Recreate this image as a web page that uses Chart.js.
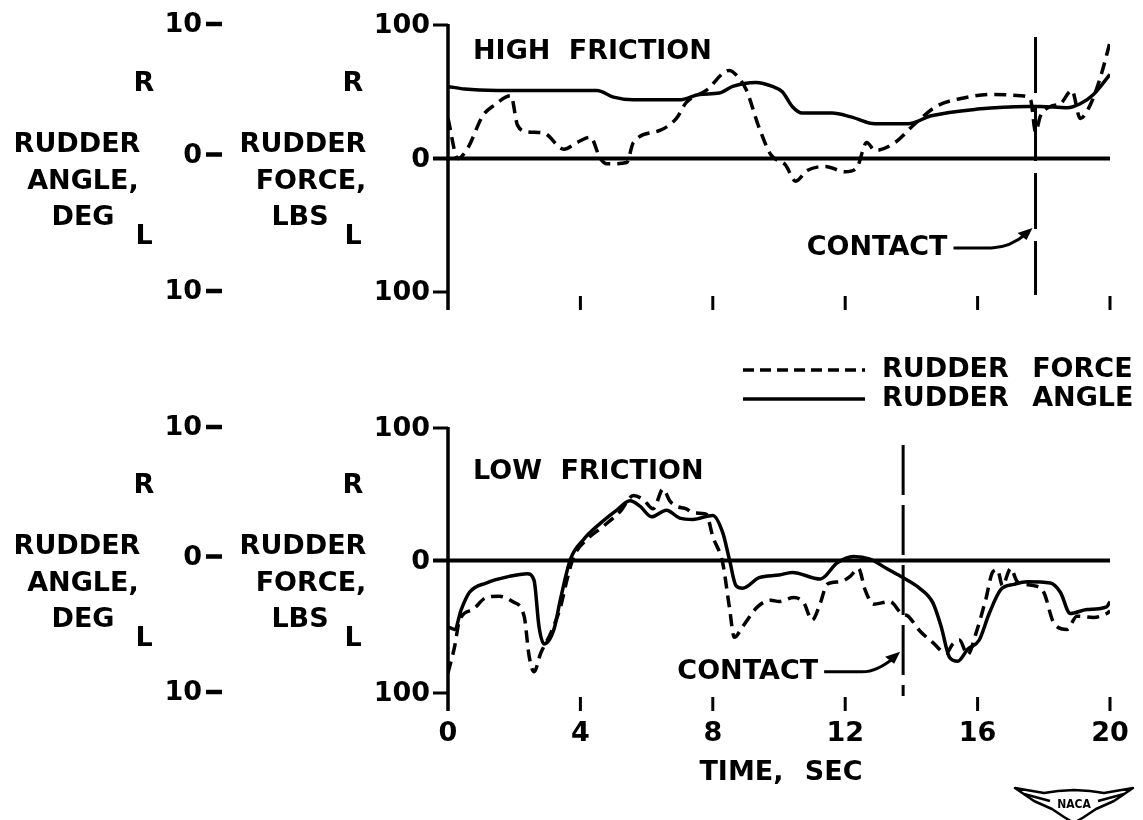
<!DOCTYPE html>
<html>
<head>
<meta charset="utf-8">
<script src="https://cdn.jsdelivr.net/npm/chart.js@4/dist/chart.umd.min.js"></script>
<style>
html,body{margin:0;padding:0;background:#fff;width:1143px;height:820px;overflow:hidden}
canvas{position:absolute;left:0;top:0}
</style>
</head>
<body>
<canvas id="c1" width="1143" height="820"></canvas>
<canvas id="c2" width="1143" height="820"></canvas>
<script>
// ---------- data ----------
const timeTicks = [0, 4, 8, 12, 16, 20];
const timeTickLabels = ['0', '4', '8', '12', '16', '20'];
const forceTicks = [100, 0, -100];
const forceTickLabels = ['100', '0', '100'];
const angleTicks = [10, 0, -10];
const angleTickLabels = ['10', '0', '10'];
const seriesLabels = ['RUDDER FORCE', 'RUDDER ANGLE'];
const panelTitles = ['HIGH FRICTION', 'LOW FRICTION'];
const contactTimes = [17.75, 13.75];
const xAxisTitle = 'TIME, SEC';
const angleAxisTitle = ['RUDDER', 'ANGLE,', 'DEG'];
const forceAxisTitle = ['RUDDER', 'FORCE,', 'LBS'];

// High friction (top panel)
const hfForceTime = [0, 0.3, 0.6, 1.05, 1.4, 1.9, 2.1, 2.4, 2.9, 3.5, 3.9, 4.3, 4.6, 4.8, 5.4, 5.6, 6.4, 6.9, 7.2, 7.8, 8.5, 8.6, 9.0, 9.4, 9.75, 10.2, 10.5, 10.85, 11.4, 12.0, 12.35, 12.65, 12.9, 13.45, 14.15, 14.75, 15.5, 16.5, 17.3, 17.6, 17.75, 17.9, 18.2, 18.5, 18.85, 19.1, 19.4, 19.7, 20];
const hfForce = [30, 0, 8, 32, 40, 47, 25, 20, 19, 7, 12, 16, 0, -4, -3, 12, 21, 30, 42, 51, 66, 65, 52, 23, 3, -5, -17, -9, -6, -10, -7, 12, 6, 11, 27, 39, 45, 48, 47, 44, 20, 32, 39, 41, 51, 30, 40, 60, 87];
const hfAngleTime = [0, 0.5, 1.5, 3.0, 4.5, 5.0, 5.6, 7.0, 7.6, 8.2, 8.6, 9.3, 9.8, 10.1, 10.4, 10.7, 11.6, 12.2, 12.9, 13.9, 14.6, 16.0, 17.5, 17.9, 18.7, 19.1, 19.5, 20];
const hfAngle = [5.4, 5.2, 5.1, 5.1, 5.1, 4.6, 4.4, 4.4, 4.8, 4.9, 5.4, 5.7, 5.4, 5.0, 3.9, 3.4, 3.4, 3.1, 2.6, 2.6, 3.2, 3.7, 3.9, 3.9, 3.8, 4.1, 4.8, 6.3];

// Low friction (bottom panel)
const lfForceTime = [0, 0.2, 0.35, 0.75, 1.15, 1.55, 1.95, 2.3, 2.45, 2.6, 2.8, 3.1, 3.4, 3.6, 3.8, 4.2, 4.7, 5.2, 5.6, 5.9, 6.2, 6.5, 6.7, 6.9, 7.2, 7.4, 7.8, 8.0, 8.3, 8.5, 8.65, 8.9, 9.35, 9.75, 10.0, 10.45, 10.75, 11.0, 11.25, 11.45, 11.85, 12.15, 12.4, 12.6, 12.85, 13.35, 13.7, 13.9, 14.25, 14.65, 15.05, 15.25, 15.45, 15.7, 15.95, 16.25, 16.45, 16.6, 16.75, 17.0, 17.2, 17.7, 18.0, 18.3, 18.7, 19.0, 19.5, 19.9, 20];
const lfForce = [-85, -65, -45, -37, -28, -27, -31, -42, -72, -84, -70, -55, -35, -14, 3, 16, 26, 37, 49, 46, 39, 54, 45, 41, 39, 36, 35, 18, -2, -35, -58, -50, -35, -30, -31, -28, -32, -45, -32, -18, -16, -12, -6, -22, -33, -31, -40, -42, -53, -62, -70, -63, -60, -71, -55, -29, -9, -7, -19, -6, -16, -19, -24, -47, -52, -42, -43, -40, -38];
const lfAngleTime = [0, 0.2, 0.4, 0.65, 1.15, 1.85, 2.4, 2.6, 2.75, 2.9, 3.2, 3.4, 3.7, 4.1, 4.6, 5.1, 5.5, 5.8, 6.15, 6.6, 7.0, 7.4, 8.0, 8.3, 8.5, 8.7, 8.9, 9.4, 10.0, 10.4, 11.25, 11.75, 12.25, 12.75, 13.25, 13.75, 14.25, 14.65, 14.9, 15.15, 15.4, 15.7, 16.05, 16.35, 16.7, 17.1, 17.5, 18.2, 18.5, 18.8, 19.3, 19.9, 20];
const lfAngle = [-5.0, -5.2, -3.7, -2.4, -1.7, -1.2, -1.0, -1.5, -5.0, -6.3, -5.2, -2.9, 0.1, 1.6, 2.8, 3.8, 4.5, 4.1, 3.3, 3.8, 3.2, 3.1, 3.4, 2.1, 0.1, -1.9, -2.1, -1.3, -1.1, -0.9, -1.4, -0.2, 0.3, 0.1, -0.6, -1.3, -2.1, -3.2, -5.0, -7.3, -7.6, -6.7, -6.0, -4.0, -2.2, -1.8, -1.6, -1.7, -2.4, -4.0, -3.7, -3.5, -3.1];

// ---------- helpers ----------
const FONT = 'bold 27px "DejaVu Sans", "Liberation Sans", sans-serif';
const zip = (xs, ys) => xs.map((x, i) => ({ x: x, y: ys[i] }));

function spaced(ctx, px) { if ('wordSpacing' in ctx) ctx.wordSpacing = px + 'px'; }

function drawArrowLabel(ctx, text, cx, y, gap) {
  ctx.font = FONT;
  ctx.textAlign = 'right';
  ctx.textBaseline = 'middle';
  const right = cx - gap;
  ctx.fillText(text, right, y);
  ctx.lineWidth = 3;
  ctx.beginPath();
  ctx.moveTo(right + 6, y);
  ctx.lineTo(right + 44, y);
  ctx.quadraticCurveTo(cx - 26, y, cx - 8, y - 15);
  ctx.stroke();
  ctx.beginPath();
  ctx.moveTo(cx - 3, y - 20);
  ctx.lineTo(cx - 18, y - 15);
  ctx.lineTo(cx - 9, y - 8);
  ctx.closePath();
  ctx.fill();
}

function drawLogo(ctx, cx, cy) {
  ctx.save();
  ctx.lineWidth = 2.5;
  ctx.lineJoin = 'round';
  ctx.beginPath();
  ctx.moveTo(cx - 59, cy - 16);
  ctx.lineTo(cx - 30, cy - 11);
  ctx.lineTo(cx - 16, cy - 13);
  ctx.lineTo(cx, cy - 14);
  ctx.lineTo(cx + 16, cy - 13);
  ctx.lineTo(cx + 30, cy - 11);
  ctx.lineTo(cx + 59, cy - 16);
  ctx.lineTo(cx + 40, cy - 3);
  ctx.lineTo(cx + 22, cy + 5);
  ctx.lineTo(cx + 10, cy + 13);
  ctx.lineTo(cx, cy + 19);
  ctx.lineTo(cx - 10, cy + 13);
  ctx.lineTo(cx - 22, cy + 5);
  ctx.lineTo(cx - 40, cy - 3);
  ctx.closePath();
  ctx.stroke();
  ctx.beginPath();
  ctx.moveTo(cx - 50, cy - 10); ctx.lineTo(cx - 24, cy - 3);
  ctx.moveTo(cx + 50, cy - 10); ctx.lineTo(cx + 24, cy - 3);
  ctx.stroke();
  ctx.font = 'bold 12px "DejaVu Sans Condensed", "DejaVu Sans", sans-serif';
  ctx.textAlign = 'center';
  ctx.textBaseline = 'middle';
  ctx.fillText('NACA', cx, cy + 1);
  ctx.restore();
}

const decorPlugin = {
  id: 'decor',
  afterDraw(chart, args, o) {
    const ctx = chart.ctx;
    const xs = chart.scales.x, ys = chart.scales.y, ya = chart.scales.ya;
    const x0 = xs.getPixelForValue(timeTicks[0]);
    const xEnd = xs.getPixelForValue(timeTicks[timeTicks.length - 1]);
    const yTop = ys.getPixelForValue(forceTicks[0]);
    const yZero = ys.getPixelForValue(0);
    const yBot = ys.getPixelForValue(forceTicks[forceTicks.length - 1]);
    ctx.save();
    ctx.fillStyle = '#000';
    ctx.strokeStyle = '#000';
    ctx.lineCap = 'butt';

    // y axis line
    ctx.lineWidth = 3.5;
    ctx.beginPath();
    ctx.moveTo(x0, yTop - 1);
    ctx.lineTo(x0, yBot + 18);
    ctx.stroke();
    // y ticks + zero line
    forceTicks.forEach(v => {
      const y = ys.getPixelForValue(v);
      ctx.beginPath();
      ctx.moveTo(x0 - 15, y);
      ctx.lineTo(v === 0 ? xEnd : x0, y);
      ctx.lineWidth = v === 0 ? 4 : 3;
      ctx.stroke();
    });
    // force tick labels
    ctx.font = FONT;
    ctx.textAlign = 'right';
    ctx.textBaseline = 'middle';
    forceTicks.forEach((v, i) => {
      ctx.fillText(forceTickLabels[i], x0 - 18, ys.getPixelForValue(v) + 1);
    });
    // angle tick labels with dash
    angleTicks.forEach((v, i) => {
      const y = ya.getPixelForValue(v) - (v === 0 ? 4 : 1);
      ctx.fillText(angleTickLabels[i], 202, y + 1);
      ctx.lineWidth = 4.5;
      ctx.beginPath();
      ctx.moveTo(206, y);
      ctx.lineTo(222, y);
      ctx.stroke();
    });
    // axis titles (left)
    ctx.textAlign = 'center';
    const rowDy = [-14, 23, 59];
    angleAxisTitle.forEach((t, i) => ctx.fillText(t, i === 0 ? 77 : 83, yZero + rowDy[i]));
    forceAxisTitle.forEach((t, i) => ctx.fillText(t, i === 0 ? 303 : (i === 1 ? 311 : 300), yZero + rowDy[i]));
    ['R', 'L'].forEach((t, i) => {
      const y = yZero + (i === 0 ? -75 : 78);
      ctx.fillText(t, 144, y);
      ctx.fillText(t, 353, y);
    });
    // x tick marks
    ctx.lineWidth = 3;
    timeTicks.slice(1).forEach(t => {
      const x = xs.getPixelForValue(t);
      ctx.beginPath();
      ctx.moveTo(x, yBot + 4);
      ctx.lineTo(x, yBot + 18);
      ctx.stroke();
    });
    // x tick labels / title
    if (o.showXLabels) {
      ctx.textAlign = 'center';
      timeTicks.forEach((t, i) => ctx.fillText(timeTickLabels[i], xs.getPixelForValue(t), yBot + 41));
      spaced(ctx, 12);
      ctx.fillText(xAxisTitle, (x0 + xEnd) / 2 + 2, yBot + 80);
      spaced(ctx, 0);
    }
    // panel title
    ctx.textAlign = 'left';
    spaced(ctx, 9);
    ctx.fillText(o.title, x0 + 25, yZero + o.titleDy);
    spaced(ctx, 0);
    // contact line
    const cx = xs.getPixelForValue(o.contact);
    ctx.lineWidth = 3;
    ctx.setLineDash(o.contactDash);
    ctx.beginPath();
    ctx.moveTo(cx, yTop + o.contactTopGap);
    ctx.lineTo(cx, yBot + 3);
    ctx.stroke();
    ctx.setLineDash([]);
    drawArrowLabel(ctx, 'CONTACT', cx, ys.getPixelForValue(o.contactLabelValue), o.contactGap);
    // legend
    if (o.showLegend) {
      chart.data.datasets.forEach((ds, i) => {
        const y = o.legendY + i * 29;
        ctx.lineWidth = 3.5;
        ctx.setLineDash(ds.borderDash && ds.borderDash.length ? [11, 6] : []);
        ctx.beginPath();
        ctx.moveTo(743, y);
        ctx.lineTo(865, y);
        ctx.stroke();
        ctx.setLineDash([]);
        ctx.textAlign = 'left';
        ctx.font = FONT;
        spaced(ctx, 14);
        ctx.fillText(ds.label, 882, y);
        spaced(ctx, 0);
      });
    }
    if (o.showLogo) drawLogo(ctx, 1074, 804);
    ctx.restore();
  }
};

function makePanel(id, force, angle, cfg) {
  return new Chart(document.getElementById(id), {
    type: 'line',
    data: {
      datasets: [
        { label: seriesLabels[0], data: force, yAxisID: 'y', borderColor: '#000', borderWidth: 3.5, borderDash: [12, 7], pointRadius: 0, cubicInterpolationMode: 'monotone', fill: false },
        { label: seriesLabels[1], data: angle, yAxisID: 'ya', borderColor: '#000', borderWidth: 3.5, pointRadius: 0, cubicInterpolationMode: 'monotone', fill: false }
      ]
    },
    options: {
      responsive: false,
      animation: false,
      devicePixelRatio: 1,
      layout: { padding: { left: 448, right: 33, top: cfg.top, bottom: cfg.bottom } },
      scales: {
        x: { type: 'linear', min: 0, max: 20, display: false },
        y: { min: -100, max: 100, display: false },
        ya: { min: -10, max: 10, display: false }
      },
      plugins: {
        legend: { display: false },
        tooltip: { enabled: false },
        decor: cfg.decor
      }
    },
    plugins: [decorPlugin]
  });
}

makePanel('c1', zip(hfForceTime, hfForce), zip(hfAngleTime, hfAngle), {
  top: 25, bottom: 528,
  decor: { title: panelTitles[0], titleDy: -107, contact: contactTimes[0], contactDash: [56, 12], contactTopGap: 12, contactLabelValue: -67, contactGap: 88, showXLabels: false, showLegend: false, showLogo: false }
});
makePanel('c2', zip(lfForceTime, lfForce), zip(lfAngleTime, lfAngle), {
  top: 428, bottom: 127,
  decor: { title: panelTitles[1], titleDy: -89, contact: contactTimes[1], contactDash: [50, 10], contactTopGap: 17, contactLabelValue: -84, contactGap: 85, showXLabels: true, showLegend: true, legendY: 370, showLogo: true }
});
</script>
</body>
</html>
